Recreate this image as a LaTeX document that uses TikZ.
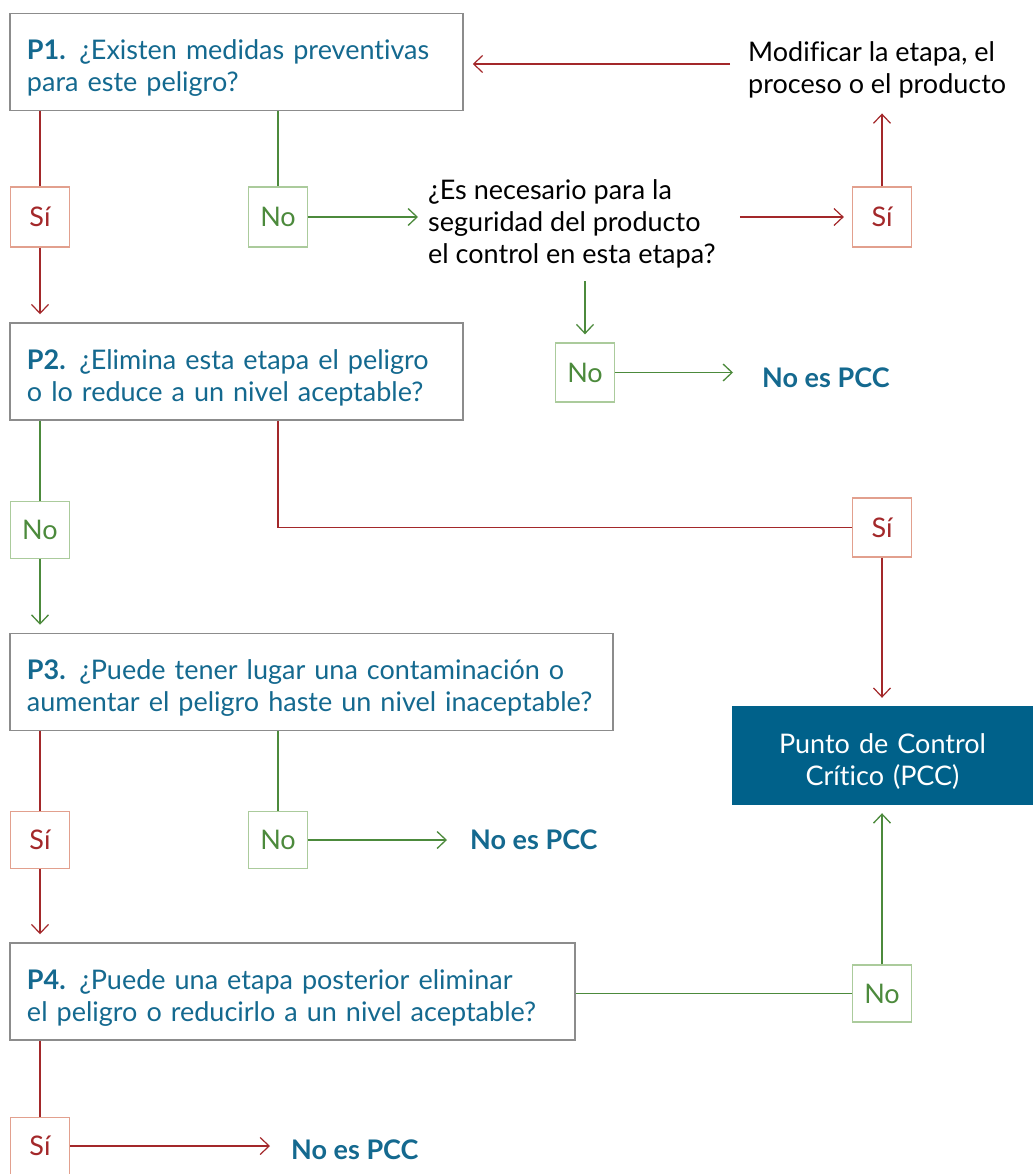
\documentclass[tikz,border=0pt]{standalone}
\usepackage{fontspec}
\setmainfont{Lato}[Ligatures={NoCommon}]
\usepackage{tikz}
\usetikzlibrary{arrows.meta}

\definecolor{qblue}{HTML}{14698F}
\definecolor{pccblue}{HTML}{00618A}
\definecolor{yesred}{HTML}{A3282A}
\definecolor{yesrim}{HTML}{E2A08E}
\definecolor{nogreen}{HTML}{4C8A3C}
\definecolor{norim}{HTML}{ABCB9C}

\begin{document}
\begin{tikzpicture}[x=1pt,y=-1pt,>={Straight Barb[length=9pt,width=17pt]}]

\tikzstyle{txt}=[font=\fontsize{27}{32}\selectfont]
\tikzstyle{struts}=[execute at begin node={\rule{0pt}{34pt}},execute at end node={\rule[-7pt]{0pt}{7pt}}]
\tikzstyle{question}=[txt,struts,rectangle,draw=black!45,line width=1.5pt,text=qblue,align=left,inner xsep=17pt,minimum height=97pt]
\tikzstyle{yesbox}=[txt,rectangle,draw=yesrim,line width=1.3pt,text=yesred,minimum width=59pt,minimum height=57pt,inner sep=0pt]
\tikzstyle{nobox}=[txt,rectangle,draw=norim,line width=1.3pt,text=nogreen,minimum width=59pt,minimum height=57pt,inner sep=0pt]
\tikzstyle{plain}=[txt,align=left,anchor=west,inner sep=0pt]
\tikzstyle{result}=[txt,anchor=west,inner sep=0pt,text=qblue,font=\fontsize{27}{32}\selectfont\bfseries]
\tikzstyle{pccbox}=[txt,struts,rectangle,fill=pccblue,text=white,align=center,inner xsep=10pt,text width=281pt,minimum height=99pt]
\tikzstyle{yesline}=[draw=yesred,line width=1.2pt]
\tikzstyle{noline}=[draw=nogreen,line width=1.3pt]

\useasboundingbox (0,0) rectangle (1033,1174);

% questions
\node[question,text width=419pt](p1) at (236.5,62) {\textbf{P1.} ¿Existen medidas preventivas\\para este peligro?};
\node[question,text width=419pt](p2) at (236.5,371.5) {\textbf{P2.} ¿Elimina esta etapa el peligro\\o lo reduce a un nivel aceptable?};
\node[question,text width=569pt](p3) at (311.5,682) {\textbf{P3.} ¿Puede tener lugar una contaminación o\\aumentar el peligro haste un nivel inaceptable?};
\node[question,text width=531pt](p4) at (292.5,991.5) {\textbf{P4.} ¿Puede una etapa posterior eliminar\\el peligro o reducirlo a un nivel aceptable?};

% answers
\node[yesbox,minimum height=60pt](si1) at (40,217) {Sí};
\node[nobox,minimum height=60pt](no1) at (278,217) {No};
\node[yesbox,minimum height=60pt](si2) at (882,217) {Sí};
\node[nobox,minimum height=59pt](no2) at (585,372.5) {No};
\node[nobox](no3) at (40,530) {No};
\node[yesbox,minimum height=59pt](si3) at (882,527.5) {Sí};
\node[yesbox](si4) at (40,840) {Sí};
\node[nobox](no4) at (278,840) {No};
\node[nobox](no5) at (882,993.5) {No};
\node[yesbox](si5) at (40,1146) {Sí};

% texts
\node[plain](mod) at (748,70) {Modificar la etapa, el\\proceso o el producto};
\node[plain](need) at (428,224) {¿Es necesario para la\\seguridad del producto\\el control en esta etapa?};
\node[result](nc1) at (762,378) {No es PCC};
\node[result](nc2) at (470,840) {No es PCC};
\node[result](nc3) at (291,1150) {No es PCC};
\node[pccbox](pcc) at (882.5,755.5) {Punto de Control\\Crítico (PCC)};

% P1
\draw[yesline] (p1.south -| si1) -- (si1.north);
\draw[yesline,->,shorten >=8pt] (si1.south) -- (p2.north -| si1);
\draw[noline] (p1.south -| no1) -- (no1.north);
\draw[noline,->,shorten >=10pt] (no1.east) -- (need.west |- no1);
\draw[yesline,->,shorten <=24pt,shorten >=8pt] (need.east |- si2) -- (si2.west);
\draw[yesline,->,shorten >=15pt] (si2.north) -- (si2.north |- mod.south);
\draw[yesline,->,shorten <=18pt,shorten >=9pt] (mod.west |- 0,64) -- (p1.east |- 0,64);
\draw[noline,->,shorten <=13pt,shorten >=8pt] (need.south -| no2) -- (no2.north);
\draw[noline,->,shorten >=29pt] (no2.east) -- (nc1.west |- no2);

% P2
\draw[noline] (p2.south -| no3) -- (no3.north);
\draw[noline,->,shorten >=8pt] (no3.south) -- (p3.north -| no3);
\draw[yesline] ([xshift=41.5pt]p2.south) |- (si3.west);
\draw[yesline,->,shorten >=8pt] (si3.south) -- (pcc.north -| si3);

% P3
\draw[yesline] (p3.south -| si4) -- (si4.north);
\draw[yesline,->,shorten >=8pt] (si4.south) -- (p4.north -| si4);
\draw[noline] (p3.south -| no4) -- (no4.north);
\draw[noline,->,shorten >=23pt] (no4.east) -- (nc2.west |- no4);

% P4
\draw[noline] (p4.east |- no5) -- (no5.west);
\draw[noline,->,shorten >=8pt] (no5.north) -- (pcc.south -| no5);
\draw[yesline] (p4.south -| si5) -- (si5.north);
\draw[yesline,->,shorten >=21pt] (si5.east) -- (nc3.west |- si5);

\end{tikzpicture}
\end{document}
